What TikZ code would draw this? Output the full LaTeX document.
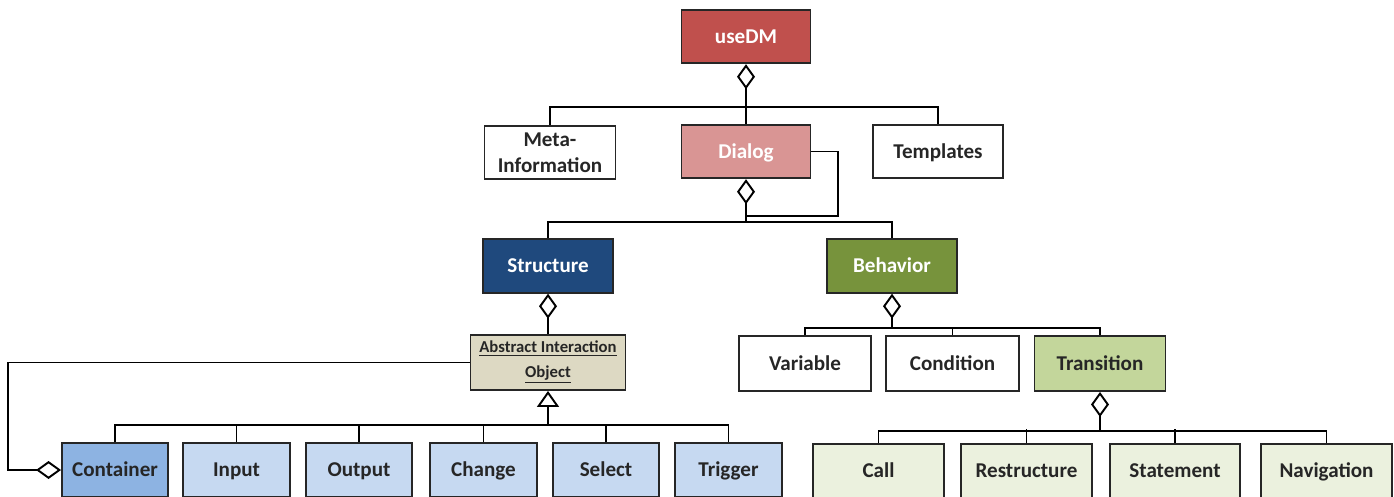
\documentclass[tikz,border=0pt]{standalone}
\usepackage{fontspec}
\setmainfont{Carlito}
\usetikzlibrary{arrows.meta,calc}
\definecolor{usedmred}{HTML}{C0504D}
\definecolor{dialogpink}{HTML}{D99594}
\definecolor{structblue}{HTML}{1F497D}
\definecolor{behavgreen}{HTML}{77933C}
\definecolor{transgreen}{HTML}{C3D69B}
\definecolor{lightgreen}{HTML}{EBF1DE}
\definecolor{aiotan}{HTML}{DDD9C3}
\definecolor{contblue}{HTML}{8DB3E2}
\definecolor{lightblue}{HTML}{C6D9F1}
\begin{document}
\begin{tikzpicture}[x=0.02cm,y=-0.02cm,line width=1.1pt,
  font=\bfseries\fontsize{12}{15}\selectfont,
  box/.style={draw=black!85,line width=1.1pt,inner sep=0pt,align=center,minimum height=1.07cm,text=black!85},
  oneline/.style={box,text height=1.85ex,text depth=0.25ex},
  agg/.style={{Diamond[open,length=0.5cm,width=0.36cm]}-},
  inh/.style={{Triangle[open,length=0.32cm,width=0.44cm]}-}]
\useasboundingbox (0,0) rectangle (1394,497);
\node [oneline,minimum width=2.58cm,fill=usedmred,text=white] (usedm) at (746,36.5) {useDM};
\node [box,minimum width=2.62cm] (meta) at (550,152.5) {Meta-\\Information};
\node [oneline,minimum width=2.58cm,fill=dialogpink,text=white] (dialog) at (746,151.5) {Dialog};
\node [oneline,minimum width=2.6cm] (templates) at (938,151.5) {Templates};
\node [oneline,minimum width=2.6cm,fill=structblue,text=white] (structure) at (548,266) {Structure};
\node [oneline,minimum width=2.6cm,fill=behavgreen,text=white] (behavior) at (892,266) {Behavior};
\node [box,minimum width=3.1cm,minimum height=1.1cm,fill=aiotan,font=\bfseries\fontsize{9.5}{14}\selectfont] (aio) at (548,362.5) {\underline{Abstract Interaction}\\\underline{Object}};
\node [oneline,minimum width=2.64cm,minimum height=1.1cm] (variable) at (805,363.5) {Variable};
\node [oneline,minimum width=2.66cm,minimum height=1.1cm] (condition) at (952.5,363.5) {Condition};
\node [oneline,minimum width=2.62cm,minimum height=1.1cm,fill=transgreen] (transition) at (1100,363.5) {Transition};
\node [oneline,minimum width=2.12cm,fill=contblue] (container) at (115,470) {Container};
\node [oneline,minimum width=2.14cm,fill=lightblue] (input) at (236.5,470) {Input};
\node [oneline,minimum width=2.12cm,fill=lightblue] (output) at (359,470) {Output};
\node [oneline,minimum width=2.14cm,fill=lightblue] (change) at (483.5,470) {Change};
\node [oneline,minimum width=2.12cm,fill=lightblue] (select) at (606,470) {Select};
\node [oneline,minimum width=2.14cm,fill=lightblue] (trigger) at (728.5,470) {Trigger};
\node [oneline,minimum width=2.62cm,fill=lightgreen] (call) at (878.5,471) {Call};
\node [oneline,minimum width=2.62cm,fill=lightgreen] (restructure) at (1026.5,471) {Restructure};
\node [oneline,minimum width=2.6cm,fill=lightgreen] (statement) at (1175,471) {Statement};
\node [oneline,minimum width=2.62cm,fill=lightgreen] (navigation) at (1326.5,471) {Navigation};
\coordinate (dlgbus) at (746,222);
\coordinate (dlgloop) at (746,216);
\coordinate (aiobus) at (548,425);
\coordinate (behbus) at (892,328);
\coordinate (trbus) at (1100,431);
\draw [agg] (usedm) -- (dialog);
\draw (meta.north) -- ++(0,-18) -| (templates.north);
\draw [agg] (dialog.south) -- (dlgbus);
\draw (dialog.east) -- ++(27,0) |- (dlgloop);
\draw (structure.north) |- (dlgbus) -| (behavior.north);
\draw [agg] (structure) -- (aio);
\draw [inh] (aio.south) -- (aiobus);
\draw (container.north) |- (aiobus) -| (trigger.north);
\foreach \n in {input,output,change,select}
  \draw (\n.north) -- ++(0,-18);
\draw [agg] (container.west) -- ++(-53,0) |- (aio.west);
\draw [agg] (behavior.south) -- (behbus);
\draw (variable.north) |- (behbus) -| (transition.north);
\draw (condition.north) -- ++(0,-8);
\draw [agg] (transition.south) -- (trbus);
\draw (call.north) |- (trbus) -| (navigation.north);
\draw (restructure.north) -- ++(0,-14);
\draw (statement.north) -- ++(0,-14);
\end{tikzpicture}
\end{document}
